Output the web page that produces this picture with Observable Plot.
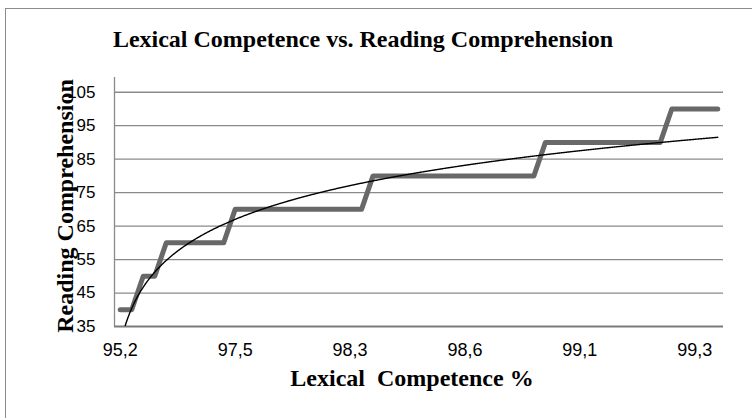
<!DOCTYPE html>
<html>
<head>
<meta charset="utf-8">
<script src="https://cdn.jsdelivr.net/npm/d3@7"></script>
<script src="https://cdn.jsdelivr.net/npm/@observablehq/plot@0.6"></script>
<style>
  html, body { margin: 0; padding: 0; background: #fff; }
  #wrap { position: relative; width: 752px; height: 418px; overflow: hidden; background: #fff; }
  #frame { position: absolute; left: 5px; top: 8px; width: 800px; height: 500px;
           border-left: 1px solid #8c8c8c; border-top: 1px solid #8c8c8c; }
  #title { position: absolute; left: 0; top: 0; width: 726px; height: 62px; box-sizing: border-box;
           padding-top: 27px; text-align: center; font: bold 24px/24px "Liberation Serif", "Times New Roman", serif;
           color: #000; }
  #chart { position: absolute; left: 0; top: 62px; }
</style>
</head>
<body>
<div id="wrap">
  <div id="frame"></div>
  <div id="title">Lexical Competence vs. Reading Comprehension</div>
  <div id="chart"></div>
</div>
<script>
// Reading comprehension score of each participant, ordered by lexical competence
const reading = [
  40, 40,
  50, 50,
  60, 60, 60, 60, 60, 60,
  70, 70, 70, 70, 70, 70, 70, 70, 70, 70, 70, 70,
  80, 80, 80, 80, 80, 80, 80, 80, 80, 80, 80, 80, 80, 80, 80,
  90, 90, 90, 90, 90, 90, 90, 90, 90, 90, 90,
  100, 100, 100, 100, 100
];
// Category labels shown on the x axis (every 10th participant)
const lexicalLabels = ["95,2", "97,5", "98,3", "98,6", "99,1", "99,3"];
const labelEvery = 10;
// Y axis ticks
const yTicks = [35, 45, 55, 65, 75, 85, 95, 105];
const yMax = 109.4;

const n = reading.length;
const pts = reading.map((y, i) => ({i: i + 1, y}));
const xTickPos = lexicalLabels.map((_, k) => 1 + k * labelEvery);

// Logarithmic trendline (least squares of y on ln(i)), as in the spreadsheet
const L = pts.map(d => Math.log(d.i));
const mL = d3.mean(L), mY = d3.mean(reading);
const a = d3.sum(L, (l, k) => (l - mL) * (reading[k] - mY)) / d3.sum(L, l => (l - mL) ** 2);
const b = mY - a * mL;
const trend = d3.range(1, n + 0.001, 0.05).map(x => ({x, y: a * Math.log(x) + b}));

const serif = '"Liberation Serif", "Times New Roman", serif';
const sans = '"Liberation Sans", Arial, sans-serif';

const chart = Plot.plot({
  width: 752,
  height: 356,
  marginTop: 15,
  marginBottom: 92,
  marginLeft: 114,
  marginRight: 29,
  x: {domain: [0.5, n + 0.5], axis: null},
  y: {domain: [35, yMax], axis: null},
  style: {background: "transparent", overflow: "visible"},
  marks: [
    Plot.ruleY(yTicks.slice(1), {stroke: "#8a8a8a", strokeWidth: 1.3}),
    Plot.ruleX([0.5], {stroke: "#8a8a8a", strokeWidth: 1.3}),
    Plot.ruleY([35], {x1: 0.5, x2: n + 0.5, stroke: "#7a7a7a", strokeWidth: 1.8}),
    Plot.axisY(yTicks, {tickSize: 0, tickPadding: 19, fontSize: 17, fontFamily: sans, fill: "#000", label: null, tickFormat: d => String(d)}),
    Plot.axisX(xTickPos, {tickSize: 0, tickPadding: 17, fontSize: 18, fontFamily: sans, fill: "#000", label: null,
      tickFormat: (d) => lexicalLabels[(d - 1) / labelEvery]}),
    Plot.line(pts, {x: "i", y: "y", stroke: "#686868", strokeWidth: 5, strokeLinecap: "round", strokeLinejoin: "round"}),
    Plot.line(trend, {x: "x", y: "y", stroke: "#000", strokeWidth: 1.4, clip: true}),
    Plot.text(["Reading Comprehension"], {frameAnchor: "left", textAnchor: "middle", rotate: -90, dx: -49, dy: 4, fontSize: 24, fontWeight: "bold", fontFamily: serif, fill: "#000"}),
    Plot.text(["Lexical  Competence %"], {frameAnchor: "bottom", dx: -7, dy: 59, fontSize: 24, fontWeight: "bold", fontFamily: serif, fill: "#000", style: "white-space: pre"})
  ]
});
document.getElementById("chart").appendChild(chart);
</script>
</body>
</html>
